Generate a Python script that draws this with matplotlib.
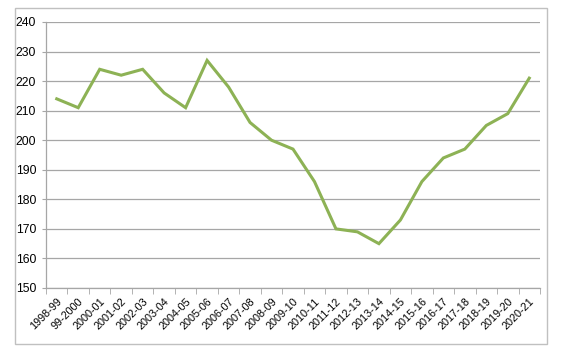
import matplotlib
matplotlib.use("Agg")
import matplotlib.pyplot as plt
import numpy as np

# Seasons and values
seasons = ["1998-99", "99-2000", "2000-01", "2001-02", "2002-03", "2003-04",
           "2004-05", "2005-06", "2006-07", "2007-08", "2008-09", "2009-10",
           "2010-11", "2011-12", "2012-13", "2013-14", "2014-15", "2015-16",
           "2016-17", "2017-18", "2018-19", "2019-20", "2020-21"]
values = [214, 211, 224, 222, 224, 216, 211, 227, 218, 206, 200, 197,
          186, 170, 169, 165, 173, 186, 194, 197, 205, 209, 221]

plt.rcParams['font.family'] = ['Liberation Sans', 'DejaVu Sans']

fig = plt.figure(figsize=(5.66, 3.51), dpi=100)

# Outer chart border
border = plt.Rectangle((15 / 566, 1 - 344 / 351), 532 / 566, 336 / 351,
                       transform=fig.transFigure, fill=False,
                       edgecolor="#c0c0c0", linewidth=1.0)
fig.patches.append(border)

ax = fig.add_axes([46 / 566, 1 - 288 / 351, 494 / 566, 266 / 351])

x = np.arange(len(seasons))
ax.plot(x, values, color="#8db255", linewidth=2.2, solid_joinstyle="miter")

ax.set_xlim(-0.5, len(seasons) - 0.5)
ax.set_ylim(150, 240)
ax.set_yticks(np.arange(150, 241, 10))
ax.grid(axis="y", color="#a6a6a6", linewidth=0.9)
ax.set_axisbelow(True)

ax.set_xticks(x)
ax.set_xticklabels(seasons, rotation=45, ha="right", rotation_mode="anchor",
                   fontsize=7.8)
ax.set_xticks(np.arange(-0.5, len(seasons), 1), minor=True)
ax.tick_params(axis="x", which="major", length=0, pad=6)
ax.tick_params(axis="x", which="minor", length=4, color="#a6a6a6")
ax.tick_params(axis="y", length=3, color="#a6a6a6", labelsize=8.8, pad=4)

for side in ["top", "right"]:
    ax.spines[side].set_visible(False)
for side in ["left", "bottom"]:
    ax.spines[side].set_color("#a6a6a6")
    ax.spines[side].set_linewidth(0.9)

fig.savefig("out.png", dpi=100)
